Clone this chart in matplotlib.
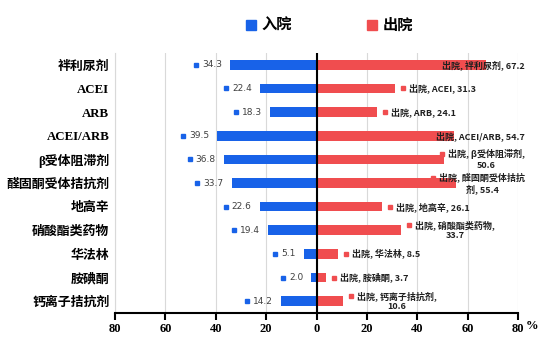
import numpy as np
import matplotlib.pyplot as plt
from matplotlib.lines import Line2D

plt.rcParams['font.family'] = ['Noto Sans CJK SC', 'DejaVu Sans']

drugs = ['袢利尿剂', 'ACEI', 'ARB', 'ACEI/ARB', 'β受体阻滞剂', '醛固酮受体拮抗剂',
         '地高辛', '硝酸酯类药物', '华法林', '胺碘酮', '钙离子拮抗剂']
admission = [34.3, 22.4, 18.3, 39.5, 36.8, 33.7, 22.6, 19.4, 5.1, 2.0, 14.2]
discharge = [67.2, 31.3, 24.1, 54.7, 50.6, 55.4, 26.1, 33.7, 8.5, 3.7, 10.6]
series_names = ['入院', '出院']
x_ticks = [-80, -60, -40, -20, 0, 20, 40, 60, 80]

BLUE = '#1862E8'
RED = '#F04D4F'
W, H = 554, 355


def cw(c):
    return 2 if ord(c) > 0x2E80 else 1


def tw(s):
    return sum(cw(c) for c in s)


def wrap_label(s, limit=20):
    # excel-like wrap: latin words move to next line, CJK words may split
    lines, cur = [], ''
    for word in s.split(' '):
        cand = cur + (' ' if cur else '') + word
        if tw(cand) <= limit:
            cur = cand
        elif any(cw(c) == 2 for c in word):
            cur = cur + (' ' if cur else '')
            for c in word:
                if tw(cur + c) > limit:
                    lines.append(cur.rstrip())
                    cur = ''
                cur += c
        else:
            lines.append(cur)
            cur = word
    lines.append(cur)
    return '\n'.join(lines)


fig = plt.figure(figsize=(W / 100, H / 100), dpi=100)
ax = fig.add_axes([115 / W, 1 - 313 / H, 403 / W, 260 / H])

y = np.arange(len(drugs))
ax.barh(y, -np.array(admission), height=0.41, color=BLUE, zorder=1)
ax.barh(y, discharge, height=0.41, color=RED, zorder=1)
ax.set_xlim(-80, 80)
ax.set_ylim(len(drugs) - 0.5, -0.5)

ax.set_xticks(x_ticks)
ax.set_xticklabels([str(abs(t)) for t in x_ticks],
                   family=['Liberation Serif', 'Noto Sans CJK SC'],
                   fontweight='bold', fontsize=9)
ax.set_yticks(y)
ax.set_yticklabels(drugs, family=['Liberation Serif', 'Noto Sans CJK SC'],
                   fontweight='bold', fontsize=9.3)
ax.tick_params(axis='y', length=0, pad=4)
ax.tick_params(axis='x', direction='out', length=5, width=1.5, pad=2)
ax.xaxis.grid(True, color='#d9d9d9', lw=0.8)
ax.set_axisbelow(True)
ax.axvline(0, color='black', lw=1.5, zorder=2)
for s in ['top', 'right']:
    ax.spines[s].set_visible(False)
ax.spines['left'].set_color('#d9d9d9')
ax.spines['left'].set_linewidth(0.8)
ax.spines['bottom'].set_linewidth(1.5)

blue_txt, red_txt = [], []
for i, (a, d, name) in enumerate(zip(admission, discharge, drugs)):
    t = ax.annotate(f'{a:.1f}', xy=(-a, i), xytext=(-8, 0), textcoords='offset pixels',
                    ha='right', va='center', fontsize=6.5, color='#404040',
                    family='DejaVu Sans', zorder=4)
    blue_txt.append(t)
    lab = wrap_label(f'{series_names[1]}, {name}, {d:.1f}')
    t = ax.annotate(lab, xy=(d, i), xytext=(14, 0), textcoords='offset pixels',
                    ha='left', va='center', multialignment='center', fontsize=6.5,
                    fontweight='bold', color='#202020', zorder=4)
    red_txt.append(t)

fig.canvas.draw()
r = fig.canvas.get_renderer()
inv = ax.transData.inverted()
right_px = 525
for t in red_txt:
    bb = t.get_window_extent(r)
    if bb.x1 > right_px:
        t.xyann = (t.xyann[0] - (bb.x1 - right_px), 0)
fig.canvas.draw()
for t in red_txt:
    bb = t.get_window_extent(r)
    nlines = t.get_text().count('\n') + 1
    lh = bb.height / nlines
    mx, my = inv.transform((bb.x0 - 6, bb.y1 - lh / 2))
    ax.plot(mx, my, 's', ms=3.2, color=RED, zorder=3, clip_on=False)
for t in blue_txt:
    bb = t.get_window_extent(r)
    mx, my = inv.transform((bb.x0 - 6, (bb.y0 + bb.y1) / 2))
    ax.plot(mx, my, 's', ms=3.2, color=BLUE, zorder=3, clip_on=False)

# legend drawn by hand so the spacing matches
for name, col, x0 in zip(series_names, [BLUE, RED], [251, 372]):
    fig.add_artist(Line2D([x0 / W], [1 - 25 / H], marker='s', ls='', ms=6.5, color=col))
    fig.text((x0 + 11) / W, 1 - 25 / H, name, fontsize=11, fontweight='bold',
             ha='left', va='center')
fig.text(532 / W, 1 - 326 / H, '%', fontsize=9, fontweight='bold',
         family=['Liberation Serif'], ha='center', va='center')

fig.savefig('out.png', dpi=100)
